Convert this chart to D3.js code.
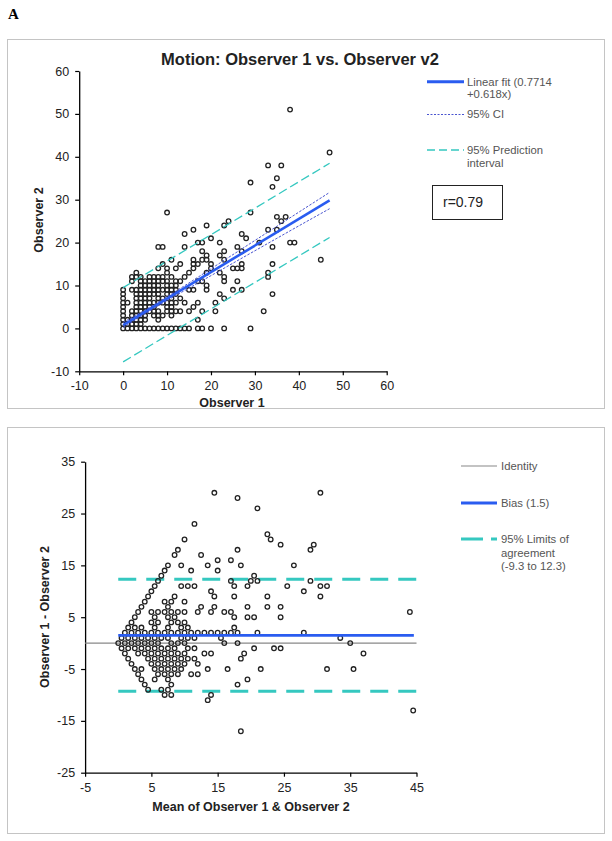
<!DOCTYPE html>
<html><head><meta charset="utf-8">
<script src="https://cdn.jsdelivr.net/npm/d3@7"></script>
<style>body{margin:0;background:#fff} svg{display:block} text{font-family:"Liberation Sans",Arial,sans-serif}</style>
</head><body><svg id="c" width="612" height="841"></svg>
<script>
// ---------- DATA ----------
const observer1 = [
 0,0,0,0,0,0,0,0,0,0,
 1,2,3,4,5,6,7,8,9,10,11,12,13,14,15,17,18,20,23,29,
 1,2,3,4,
 1,2,3,4,5,8,17,
 2,3,4,5,7,8,9,11,
 2,3,4,5,6,7,8,10,11,12,13,15,18,21,32,
 3,4,5,6,7,10,11,16,
 1,3,4,5,6,7,8,9,10,11,12,14,17,21,
 3,4,5,6,8,9,11,13,23,
 3,4,5,6,7,8,10,11,12,22,34,
 2,3,4,5,6,7,8,9,10,11,12,15,16,19,25,27,
 4,5,6,7,8,10,11,12,19,
 2,4,5,6,7,8,9,10,12,13,17,18,23,26,
 2,3,4,6,7,8,9,11,14,23,33,
 3,10,15,19,22,33,
 8,10,12,16,20,25,26,27,
 9,13,16,17,20,27,34,
 11,16,18,19,23,45,
 19,22,
 18,23,27,
 8,9,14,26,34,
 17,18,22,31,38,39,
 20,28,
 14,27,
 16,33,35,
 19,23,
 24,36,
 35,37,
 10,29,
 34,29,35,33,36,47,38
];
const observer2 = [
 0,1,2,3,4,5,6,7,8,9,
 0,0,0,0,0,0,0,0,0,0,0,0,0,0,0,0,0,0,0,0,
 1,1,1,1,
 2,2,2,2,2,2,2,
 3,3,3,3,3,3,3,3,
 4,4,4,4,4,4,4,4,4,4,4,4,4,4,4,
 5,5,5,5,5,5,5,5,
 6,6,6,6,6,6,6,6,6,6,6,6,6,6,
 7,7,7,7,7,7,7,7,7,
 8,8,8,8,8,8,8,8,8,8,8,
 9,9,9,9,9,9,9,9,9,9,9,9,9,9,9,9,
 10,10,10,10,10,10,10,10,10,
 11,11,11,11,11,11,11,11,11,11,11,11,11,11,
 12,12,12,12,12,12,12,12,12,12,12,
 13,13,13,13,13,13,
 14,14,14,14,14,14,14,14,
 15,15,15,15,15,15,15,
 16,16,16,16,16,16,
 17,17,
 18,18,18,
 19,19,19,19,19,
 20,20,20,20,20,20,
 21,21,
 22,22,
 23,23,23,
 24,24,
 25,25,
 26,26,
 27,27,
 33,34,35,38,38,41,51
];
// linear fit, CI and prediction interval
const fitX = [0, 47];
const fitY = [0.77, 29.82];
const ciX = [0, 5, 10, 15, 20, 25, 30, 35, 40, 47];
const ciUpper = [1.4, 4.3, 7.4, 10.6, 13.9, 17.2, 20.5, 23.8, 27.1, 31.7];
const ciLower = [0.2, 3.4, 6.5, 9.4, 12.3, 15.2, 18.1, 21.0, 23.9, 27.9];
const piX = [0, 47];
const piUpper = [9.5, 38.5];
const piLower = [-7.8, 21.2];
const topTicks = [-10, 0, 10, 20, 30, 40, 50, 60];
// Bland-Altman
const bias = 1.5, loaUpper = 12.3, loaLower = -9.3;
const baXTicks = [-5, 5, 15, 25, 35, 45];
const baYTicks = [-25, -15, -5, 5, 15, 25, 35];

// ---------- DRAW ----------
const svg = d3.select("#c");
const FONT = '"Liberation Sans",Arial,sans-serif';
const BLUE = "#2a5cf0", TEAL = "#35c8c0", CIB = "#4a55d0";
const fmt = d => String(d);

svg.append("text").attr("x", 8).attr("y", 19).text("A")
  .style("font-family", '"Liberation Serif","Times New Roman",serif')
  .style("font-weight", "bold").style("font-size", "15px");

// panel boxes
svg.append("rect").attr("x", 7.5).attr("y", 39.5).attr("width", 597).attr("height", 369)
  .attr("fill", "none").attr("stroke", "#c4c4c4");
svg.append("rect").attr("x", 7.5).attr("y", 427.5).attr("width", 597).attr("height", 406)
  .attr("fill", "none").attr("stroke", "#c4c4c4");

function styleAxis(g) {
  g.selectAll("path").attr("stroke", "#000").attr("stroke-width", 1.3);
  g.selectAll("line").attr("stroke", "#000").attr("stroke-width", 1.2);
  g.selectAll("text").style("font-family", FONT).style("font-size", "12.5px").attr("fill", "#222");
}

// ===== Top chart =====
const x1 = d3.scaleLinear().domain([-10, 60]).range([79.2, 386.7]);
const y1 = d3.scaleLinear().domain([-10, 60]).range([371.3, 71]);

svg.append("g").attr("transform", `translate(0,${y1(-10)})`)
  .call(d3.axisBottom(x1).tickValues(topTicks).tickSize(4).tickSizeOuter(0).tickPadding(6).tickFormat(fmt))
  .call(styleAxis);
svg.append("g").attr("transform", `translate(${x1(-10)},0)`)
  .call(d3.axisLeft(y1).tickValues(topTicks).tickSize(4).tickSizeOuter(0).tickPadding(6).tickFormat(fmt))
  .call(styleAxis);

svg.append("text").attr("x", 300).attr("y", 65).attr("text-anchor", "middle")
  .style("font-weight", "bold").style("font-size", "16.5px").attr("fill", "#222")
  .text("Motion: Observer 1 vs. Observer v2");
svg.append("text").attr("x", 232).attr("y", 407).attr("text-anchor", "middle")
  .style("font-weight", "bold").style("font-size", "12.5px").attr("fill", "#222").text("Observer 1");
svg.append("text").attr("transform", "translate(43,220) rotate(-90)").attr("text-anchor", "middle")
  .style("font-weight", "bold").style("font-size", "12.5px").attr("fill", "#222").text("Observer 2");

const topPts = observer1.map((v, i) => ({x: v, y: observer2[i]}));
svg.append("g").selectAll("circle").data(topPts).join("circle")
  .attr("cx", d => x1(d.x)).attr("cy", d => y1(d.y)).attr("r", 2.3)
  .attr("fill", "none").attr("stroke", "#222").attr("stroke-width", 1.3);

const line1 = d3.line().x(d => x1(d[0])).y(d => y1(d[1]));
svg.append("path").attr("d", line1(piX.map((v, i) => [v, piUpper[i]])))
  .attr("fill", "none").attr("stroke", TEAL).attr("stroke-width", 1.3).attr("stroke-dasharray", "9,4");
svg.append("path").attr("d", line1(piX.map((v, i) => [v, piLower[i]])))
  .attr("fill", "none").attr("stroke", TEAL).attr("stroke-width", 1.3).attr("stroke-dasharray", "9,4");
svg.append("path").attr("d", line1(fitX.map((v, i) => [v, fitY[i]])))
  .attr("fill", "none").attr("stroke", BLUE).attr("stroke-width", 2.6);
const lineC = d3.line().curve(d3.curveMonotoneX).x(d => x1(d[0])).y(d => y1(d[1]));
svg.append("path").attr("d", lineC(ciX.map((v, i) => [v, ciUpper[i]])))
  .attr("fill", "none").attr("stroke", CIB).attr("stroke-width", 1).attr("stroke-dasharray", "2.5,1.5");
svg.append("path").attr("d", lineC(ciX.map((v, i) => [v, ciLower[i]])))
  .attr("fill", "none").attr("stroke", CIB).attr("stroke-width", 1).attr("stroke-dasharray", "2.5,1.5");

// top legend
function legText(x, y, t) {
  svg.append("text").attr("x", x).attr("y", y).attr("dy", "0.35em")
    .style("font-size", "11.3px").attr("fill", "#555").text(t);
}
svg.append("line").attr("x1", 427).attr("x2", 464).attr("y1", 81.7).attr("y2", 81.7)
  .attr("stroke", BLUE).attr("stroke-width", 3);
legText(467, 81.7, "Linear fit (0.7714");
legText(467, 94.5, "+0.618x)");
svg.append("line").attr("x1", 427).attr("x2", 464).attr("y1", 114.5).attr("y2", 114.5)
  .attr("stroke", CIB).attr("stroke-width", 1).attr("stroke-dasharray", "2,1.5");
legText(467, 114.5, "95% CI");
svg.append("line").attr("x1", 427).attr("x2", 464).attr("y1", 150).attr("y2", 150)
  .attr("stroke", TEAL).attr("stroke-width", 1.3).attr("stroke-dasharray", "8,4");
legText(467, 150, "95% Prediction");
legText(467, 163, "interval");
svg.append("rect").attr("x", 432.5).attr("y", 185.5).attr("width", 70).attr("height", 34)
  .attr("fill", "#fff").attr("stroke", "#222").attr("stroke-width", 1);
svg.append("text").attr("x", 443).attr("y", 202).attr("dy", "0.35em")
  .style("font-size", "14px").attr("fill", "#222").text("r=0.79");

// ===== Bottom chart (Bland-Altman) =====
const x2 = d3.scaleLinear().domain([-5, 45]).range([85.1, 416.5]);
const y2 = d3.scaleLinear().domain([-25, 35]).range([772.7, 461.7]);

svg.append("g").attr("transform", `translate(0,${y2(-25)})`)
  .call(d3.axisBottom(x2).tickValues(baXTicks).tickSize(4).tickSizeOuter(0).tickPadding(6).tickFormat(fmt))
  .call(styleAxis);
svg.append("g").attr("transform", `translate(${x2(-5)},0)`)
  .call(d3.axisLeft(y2).tickValues(baYTicks).tickSize(4).tickSizeOuter(0).tickPadding(6).tickFormat(fmt))
  .call(styleAxis);

svg.append("text").attr("x", 251).attr("y", 811).attr("text-anchor", "middle")
  .style("font-weight", "bold").style("font-size", "12.5px").attr("fill", "#222")
  .text("Mean of Observer 1 & Observer 2");
svg.append("text").attr("transform", "translate(49,617) rotate(-90)").attr("text-anchor", "middle")
  .style("font-weight", "bold").style("font-size", "12.5px").attr("fill", "#222")
  .text("Observer 1 - Observer 2");

const line2 = d3.line().x(d => x2(d[0])).y(d => y2(d[1]));
svg.append("path").attr("d", line2([[-5, 0], [45, 0]]))
  .attr("fill", "none").attr("stroke", "#888").attr("stroke-width", 1.2);
svg.append("path").attr("d", line2([[0, loaUpper], [45, loaUpper]]))
  .attr("fill", "none").attr("stroke", TEAL).attr("stroke-width", 3).attr("stroke-dasharray", "18,10");
svg.append("path").attr("d", line2([[0, loaLower], [45, loaLower]]))
  .attr("fill", "none").attr("stroke", TEAL).attr("stroke-width", 3).attr("stroke-dasharray", "18,10");

const baPts = observer1.map((v, i) => ({m: (v + observer2[i]) / 2, d: v - observer2[i]}));
svg.append("g").selectAll("circle").data(baPts).join("circle")
  .attr("cx", d => x2(d.m)).attr("cy", d => y2(d.d)).attr("r", 2.3)
  .attr("fill", "none").attr("stroke", "#222").attr("stroke-width", 1.3);

svg.append("path").attr("d", line2([[0, bias], [44.6, bias]]))
  .attr("fill", "none").attr("stroke", BLUE).attr("stroke-width", 2.8);

// bottom legend
svg.append("line").attr("x1", 461).attr("x2", 497).attr("y1", 466).attr("y2", 466)
  .attr("stroke", "#888").attr("stroke-width", 1.2);
legText(501, 466, "Identity");
svg.append("line").attr("x1", 461).attr("x2", 497).attr("y1", 503).attr("y2", 503)
  .attr("stroke", BLUE).attr("stroke-width", 3);
legText(501, 503, "Bias (1.5)");
svg.append("line").attr("x1", 461).attr("x2", 497).attr("y1", 539).attr("y2", 539)
  .attr("stroke", TEAL).attr("stroke-width", 3).attr("stroke-dasharray", "22,8");
legText(501, 539, "95% Limits of");
legText(501, 552.7, "agreement");
legText(501, 566.5, "(-9.3 to 12.3)");
</script></body></html>
